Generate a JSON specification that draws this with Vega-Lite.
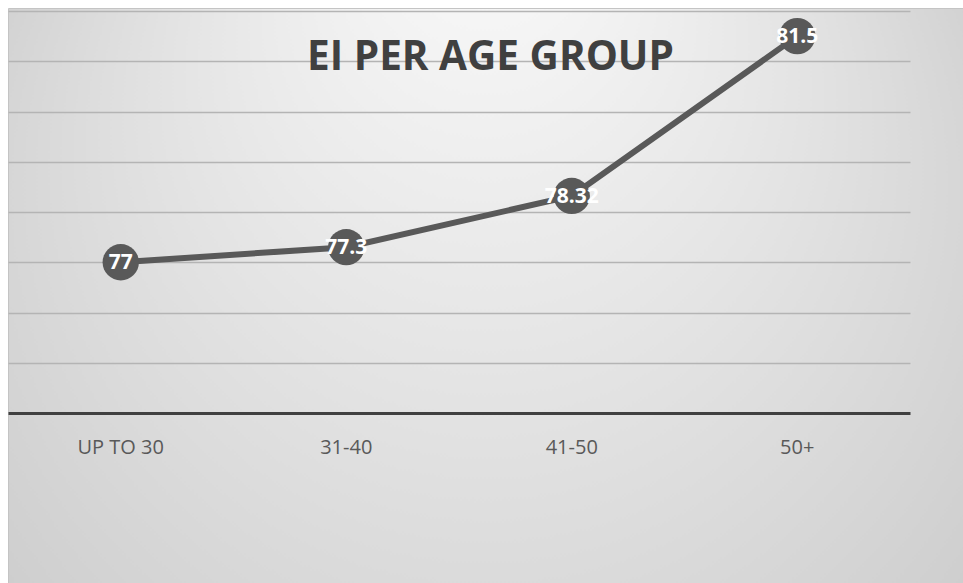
{
  "$schema": "https://vega.github.io/schema/vega-lite/v6.json",
  "width": 955,
  "height": 575,
  "autosize": "none",
  "padding": {"left": 8, "top": 8, "right": 0, "bottom": 0},
  "background": "#ffffff",
  "title": {
    "text": "EI PER AGE GROUP",
    "font": "Open Sans",
    "fontSize": 40.5,
    "fontWeight": "bold",
    "color": "#404040",
    "anchor": "middle",
    "baseline": "alphabetic",
    "offset": -102,
    "dx": 5
  },
  "config": {
    "view": {
      "stroke": "#c4c4c4",
      "strokeWidth": 1,
      "fill": {
        "gradient": "radial",
        "x1": 0.5, "y1": 0.05, "r1": 0,
        "x2": 0.5, "y2": 0.56, "r2": 0.74,
        "stops": [
          {"offset": 0, "color": "#fcfcfc"},
          {"offset": 0.45, "color": "#e3e3e3"},
          {"offset": 0.8, "color": "#cfcfcf"},
          {"offset": 1, "color": "#bdbdbd"}
        ]
      }
    }
  },
  "data": {
    "values": [
      {"group": "UP TO 30", "ei": 77},
      {"group": "31-40", "ei": 77.3},
      {"group": "41-50", "ei": 78.32},
      {"group": "50+", "ei": 81.5}
    ]
  },
  "encoding": {
    "x": {
      "field": "group",
      "type": "nominal",
      "sort": null,
      "scale": {"type": "band", "range": [0, 902], "paddingInner": 0, "paddingOuter": 0},
      "axis": {
        "title": null,
        "orient": "bottom",
        "offset": -170,
        "domain": false,
        "ticks": false,
        "tickSize": 0,
        "grid": false,
        "labelAngle": 0,
        "labelFont": "Open Sans",
        "labelFontSize": 20,
        "labelColor": "#595959",
        "labelBaseline": "alphabetic",
        "labelPadding": 40
      }
    },
    "y": {
      "field": "ei",
      "type": "quantitative",
      "scale": {"domain": [70.617, 82.06], "nice": false, "zero": false},
      "axis": {
        "title": null,
        "values": [74, 75, 76, 77, 78, 79, 80, 81, 82],
        "labels": false,
        "ticks": false,
        "domain": false,
        "grid": true,
        "gridColor": {"condition": {"test": "datum.value === 74", "value": "#404040"}, "value": "#b4b4b4"},
        "gridWidth": {"condition": {"test": "datum.value === 74", "value": 3}, "value": 1.5}
      }
    }
  },
  "layer": [
    {"mark": {"type": "line", "color": "#595959", "strokeWidth": 6}},
    {"mark": {"type": "point", "filled": true, "size": 1320, "color": "#595959", "opacity": 1}},
    {
      "mark": {"type": "text", "color": "#ffffff", "font": "Open Sans", "fontWeight": "bold", "fontSize": 21, "baseline": "middle", "dy": 1},
      "encoding": {"text": {"field": "ei", "type": "quantitative", "format": "~g"}}
    }
  ]
}
